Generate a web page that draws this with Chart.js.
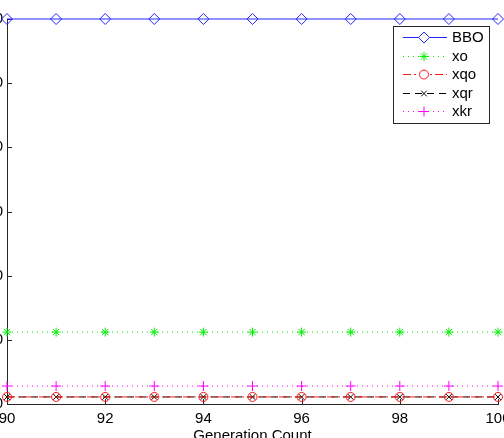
<!DOCTYPE html>
<html>
<head>
<meta charset="utf-8">
<script src="https://cdn.jsdelivr.net/npm/chart.js"></script>
<style>
  html, body { margin: 0; padding: 0; background: #fff; overflow: hidden; }
  body { width: 504px; height: 438px; position: relative; }
  #wrap { position: absolute; left: -53px; top: 0; width: 600px; height: 470px; }
</style>
</head>
<body>
<div id="wrap"><canvas id="chart" width="600" height="470"></canvas></div>
<script>
const generations = [90, 91, 92, 93, 94, 95, 96, 97, 98, 99, 100];
const bboValues = [60, 60, 60, 60, 60, 60, 60, 60, 60, 60, 60];
const xoValues = [11.2, 11.2, 11.2, 11.2, 11.2, 11.2, 11.2, 11.2, 11.2, 11.2, 11.2];
const xqoValues = [1.1, 1.1, 1.1, 1.1, 1.1, 1.1, 1.1, 1.1, 1.1, 1.1, 1.1];
const xqrValues = [1.1, 1.1, 1.1, 1.1, 1.1, 1.1, 1.1, 1.1, 1.1, 1.1, 1.1];
const xkrValues = [2.8, 2.8, 2.8, 2.8, 2.8, 2.8, 2.8, 2.8, 2.8, 2.8, 2.8];
const xTicks = [90, 92, 94, 96, 98, 100];
const yTicks = [0, 10, 20, 30, 40, 50, 60];

const axisColor = '#262626';
const fontFamily = '"Liberation Sans", Arial, sans-serif';

function toPoints(values) {
  return values.map((v, i) => ({ x: generations[i], y: v }));
}

function series(label, values, color, style, radius, dash) {
  return {
    label: label,
    data: toPoints(values),
    borderColor: color,
    backgroundColor: 'transparent',
    borderWidth: 1,
    borderDash: dash,
    pointStyle: style,
    pointRadius: radius,
    pointBorderColor: color,
    pointBackgroundColor: 'transparent',
    pointBorderWidth: 1,
    tension: 0,
    clip: false
  };
}

// MATLAB style ticks that point into the plot
const inwardTicks = {
  id: 'inwardTicks',
  beforeDatasetsDraw(chart) {
    const { ctx, chartArea: a, scales: { x, y } } = chart;
    ctx.save();
    ctx.strokeStyle = axisColor;
    ctx.lineWidth = 1;
    ctx.beginPath();
    x.ticks.forEach((t, i) => {
      const px = Math.round(x.getPixelForTick(i)) + 0.5;
      ctx.moveTo(px, a.bottom);
      ctx.lineTo(px, a.bottom - 5);
    });
    y.ticks.forEach((t, i) => {
      const py = Math.round(y.getPixelForTick(i)) + 0.5;
      ctx.moveTo(a.left, py);
      ctx.lineTo(a.left + 5, py);
    });
    ctx.stroke();
    ctx.restore();
  }
};

// boxed legend inside the top right corner
const boxLegend = {
  id: 'boxLegend',
  afterDraw(chart) {
    const { ctx, chartArea: a } = chart;
    const w = 96, h = 97;
    const left = Math.round(a.right - 9 - w);
    const top = Math.round(a.top + 7);
    ctx.save();
    ctx.fillStyle = '#fff';
    ctx.fillRect(left, top, w, h);
    ctx.strokeStyle = axisColor;
    ctx.lineWidth = 1;
    ctx.strokeRect(left + 0.5, top + 0.5, w, h);
    ctx.font = '15px ' + fontFamily;
    ctx.textBaseline = 'middle';
    ctx.textAlign = 'left';
    chart.data.datasets.forEach((ds, i) => {
      const y = Math.round(top + 11 + i * 18.5) + 0.5;
      ctx.strokeStyle = ds.borderColor;
      ctx.setLineDash(ds.borderDash || []);
      ctx.beginPath();
      ctx.moveTo(left + 10, y);
      ctx.lineTo(left + 54, y);
      ctx.stroke();
      ctx.setLineDash([]);
      if (Chart.helpers && Chart.helpers.drawPoint) {
        ctx.fillStyle = '#fff';
        ctx.strokeStyle = ds.borderColor;
        Chart.helpers.drawPoint(ctx, {
          pointStyle: ds.pointStyle,
          radius: ds.pointRadius,
          borderWidth: 1,
          rotation: 0
        }, left + 31, y);
      }
      ctx.fillStyle = '#000';
      ctx.fillText(ds.label, left + 59, y);
    });
    ctx.restore();
  }
};

new Chart(document.getElementById('chart'), {
  type: 'line',
  data: {
    datasets: [
      series('BBO', bboValues, '#2424ff', 'rectRot', 5.5, []),
      series('xo', xoValues, '#00ee00', 'star', 4.5, [1, 4]),
      series('xqo', xqoValues, '#ff1a1a', 'circle', 4.5, [8, 3, 2, 3]),
      series('xqr', xqrValues, '#000000', 'crossRot', 4, [7, 5]),
      series('xkr', xkrValues, '#ff00ff', 'cross', 5, [1, 4])
    ]
  },
  options: {
    responsive: false,
    animation: false,
    events: [],
    layout: { padding: { left: 0, right: 49, top: 19, bottom: 0 } },
    plugins: {
      legend: { display: false },
      tooltip: { enabled: false }
    },
    scales: {
      x: {
        type: 'linear',
        min: 90,
        max: 100,
        afterBuildTicks: s => { s.ticks = xTicks.map(v => ({ value: v })); },
        afterFit: s => { s.height = 66; },
        grid: { display: false, drawTicks: false },
        border: { display: true, color: axisColor, width: 1 },
        ticks: { color: '#000', padding: 6, maxRotation: 0, font: { family: fontFamily, size: 15 } },
        title: {
          display: true,
          text: 'Generation Count',
          color: '#000',
          font: { family: fontFamily, size: 15 },
          padding: { top: 0, bottom: 25 }
        }
      },
      y: {
        min: 0,
        max: 60,
        afterBuildTicks: s => { s.ticks = yTicks.map(v => ({ value: v })); },
        afterFit: s => { s.width = 60; },
        grid: { display: false, drawTicks: false },
        border: { display: true, color: axisColor, width: 1 },
        ticks: { color: '#000', padding: 4, font: { family: fontFamily, size: 15 } }
      }
    }
  },
  plugins: [inwardTicks, boxLegend]
});
</script>
</body>
</html>
